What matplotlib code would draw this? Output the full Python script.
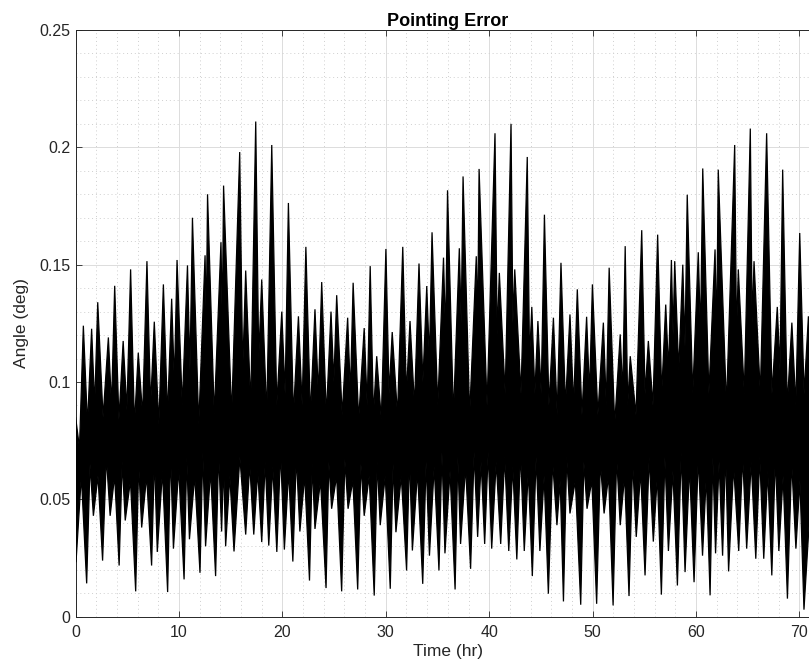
import matplotlib.pyplot as plt
from matplotlib.ticker import MultipleLocator
import numpy as np

# Upper edge of the trace: spike tips (time in hr, angle in deg)
peak_t = [0.0, 0.75, 1.55, 2.14, 3.17, 3.78, 4.60, 5.32, 6.06, 6.90,
          7.61, 8.49, 9.29, 9.81, 10.82, 11.30, 12.52, 12.76, 14.06, 14.31,
          15.87, 16.45, 17.42, 18.00, 18.97, 19.94, 20.58, 21.55, 22.27, 23.15,
          23.80, 24.70, 25.25, 26.31, 26.84, 27.91, 28.49, 29.12, 30.01, 30.62,
          31.64, 32.34, 33.21, 33.96, 34.47, 35.58, 35.97, 37.11, 37.47, 38.75,
          39.02, 40.56, 40.98, 42.11, 42.47, 43.68, 44.12, 44.71, 45.34, 46.21,
          46.94, 47.81, 48.52, 49.42, 49.98, 51.04, 51.60, 52.67, 53.15, 53.64,
          54.75, 55.39, 56.29, 57.07, 57.62, 57.94, 58.72, 59.15, 60.22, 60.65,
          61.84, 62.15, 63.74, 64.09, 65.25, 65.61, 66.83, 67.86, 68.38, 69.27,
          70.03, 70.87, 72.0]
peak_v = [0.085, 0.124, 0.1227, 0.134, 0.119, 0.141, 0.1175, 0.148, 0.1125, 0.1515,
          0.1257, 0.1416, 0.1355, 0.152, 0.1497, 0.170, 0.154, 0.180, 0.1596, 0.1837,
          0.198, 0.1475, 0.211, 0.1437, 0.201, 0.130, 0.1763, 0.128, 0.1576, 0.131,
          0.1426, 0.130, 0.137, 0.1274, 0.1423, 0.123, 0.1494, 0.111, 0.1567, 0.1213,
          0.1576, 0.126, 0.1505, 0.1409, 0.1638, 0.153, 0.1817, 0.157, 0.1876, 0.1536,
          0.1908, 0.206, 0.1465, 0.210, 0.148, 0.1959, 0.132, 0.126, 0.1713, 0.1274,
          0.1508, 0.1288, 0.1395, 0.1278, 0.1416, 0.1253, 0.1487, 0.1203, 0.1579, 0.111,
          0.1647, 0.1175, 0.1628, 0.133, 0.152, 0.1515, 0.150, 0.1798, 0.1553, 0.191,
          0.1565, 0.1905, 0.201, 0.148, 0.208, 0.1515, 0.206, 0.132, 0.1905, 0.1253,
          0.1635, 0.128, 0.13]
# lowest point of the upper edge between two neighbouring tips
notch_v = [0.072, 0.082, 0.09, 0.085, 0.09, 0.084, 0.088, 0.082, 0.086, 0.09,
           0.082, 0.086, 0.1, 0.09, 0.105, 0.082, 0.125, 0.086, 0.125, 0.086,
           0.105, 0.09, 0.11, 0.086, 0.09, 0.095, 0.086, 0.09, 0.086, 0.095,
           0.086, 0.1, 0.086, 0.095, 0.084, 0.09, 0.086, 0.084, 0.095, 0.086,
           0.095, 0.09, 0.1, 0.11, 0.09, 0.12, 0.086, 0.125, 0.086, 0.125,
           0.09, 0.12, 0.095, 0.125, 0.095, 0.11, 0.095, 0.095, 0.09, 0.086,
           0.09, 0.09, 0.086, 0.095, 0.086, 0.09, 0.082, 0.095, 0.09, 0.086,
           0.095, 0.09, 0.095, 0.105, 0.12, 0.105, 0.115, 0.095, 0.12, 0.095,
           0.12, 0.09, 0.12, 0.095, 0.125, 0.095, 0.095, 0.105, 0.09, 0.09,
           0.095, 0.1]

# Lower edge of the trace: downward spike tips
trough_t = [0.0, 0.04, 1.07, 1.72, 2.61, 3.34, 4.21, 4.80, 5.81, 6.39,
            7.35, 7.90, 8.90, 9.46, 10.49, 11.01, 12.03, 12.57, 13.54, 14.12,
            14.51, 15.32, 16.45, 17.23, 18.00, 18.68, 19.46, 20.19, 21.01, 21.69,
            22.62, 23.15, 24.22, 24.76, 25.73, 26.35, 27.28, 27.91, 28.88, 29.46,
            30.43, 30.98, 32.01, 32.57, 33.57, 34.22, 35.14, 35.72, 36.70, 37.23,
            38.20, 38.88, 39.56, 40.24, 41.11, 41.89, 42.67, 43.39, 44.17, 44.90,
            45.72, 46.55, 47.18, 47.81, 48.85, 49.46, 50.39, 51.11, 51.98, 52.67,
            53.52, 54.22, 55.07, 55.87, 56.65, 57.33, 58.20, 58.94, 59.81, 60.63,
            61.36, 61.89, 62.57, 63.15, 64.13, 64.90, 65.78, 66.55, 67.33, 68.01,
            68.84, 69.66, 70.44, 72.0]
trough_v = [0.035, 0.0232, 0.0142, 0.043, 0.0239, 0.043, 0.0218, 0.041, 0.0108, 0.038,
            0.0218, 0.0276, 0.0105, 0.029, 0.0159, 0.033, 0.0187, 0.030, 0.0173, 0.0363,
            0.030, 0.0278, 0.035, 0.035, 0.0318, 0.0303, 0.0276, 0.0286, 0.0235, 0.0363,
            0.0154, 0.0374, 0.0122, 0.046, 0.0108, 0.046, 0.0116, 0.043, 0.009, 0.039,
            0.0119, 0.036, 0.0197, 0.0282, 0.014, 0.026, 0.0197, 0.027, 0.0116, 0.031,
            0.0204, 0.034, 0.031, 0.029, 0.031, 0.028, 0.0244, 0.028, 0.0173, 0.028,
            0.0098, 0.039, 0.0065, 0.044, 0.0051, 0.046, 0.0055, 0.044, 0.0048, 0.039,
            0.0088, 0.034, 0.0176, 0.032, 0.0094, 0.028, 0.0133, 0.019, 0.0147, 0.026,
            0.0091, 0.027, 0.026, 0.0193, 0.028, 0.029, 0.0247, 0.0247, 0.0176, 0.028,
            0.0077, 0.029, 0.003, 0.03]
# highest point of the lower edge between two neighbouring tips
crest_v = [0.05, 0.06, 0.065, 0.06, 0.068, 0.06, 0.066, 0.058, 0.065, 0.06,
           0.068, 0.062, 0.07, 0.063, 0.068, 0.06, 0.07, 0.062, 0.07, 0.065,
           0.06, 0.068, 0.065, 0.062, 0.066, 0.064, 0.07, 0.062, 0.068, 0.06,
           0.065, 0.058, 0.066, 0.06, 0.067, 0.058, 0.065, 0.06, 0.066, 0.06,
           0.065, 0.06, 0.068, 0.062, 0.066, 0.064, 0.07, 0.062, 0.068, 0.064,
           0.07, 0.066, 0.07, 0.066, 0.068, 0.064, 0.07, 0.062, 0.068, 0.06,
           0.066, 0.058, 0.068, 0.058, 0.066, 0.058, 0.066, 0.06, 0.068, 0.06,
           0.066, 0.062, 0.068, 0.06, 0.068, 0.062, 0.07, 0.064, 0.068, 0.06,
           0.068, 0.066, 0.07, 0.064, 0.068, 0.066, 0.068, 0.062, 0.068, 0.06,
           0.066, 0.058, 0.06]

x_ticks = [0, 10, 20, 30, 40, 50, 60, 70]
y_ticks = [0, 0.05, 0.1, 0.15, 0.2, 0.25]
y_labels = ['0', '0.05', '0.1', '0.15', '0.2', '0.25']


def edge(t, v, mid):
    # put each in-between value halfway between its two tips
    ts, vs = [], []
    for i in range(len(t) - 1):
        ts += [t[i], (t[i] + t[i + 1]) / 2]
        vs += [v[i], mid[i]]
    ts.append(t[-1])
    vs.append(v[-1])
    return np.array(ts), np.array(vs)


plt.rcParams['font.family'] = ['Liberation Sans', 'DejaVu Sans']

W, H = 809, 669
fig = plt.figure(figsize=(W / 100, H / 100), dpi=100)
# the axes run past the right edge of the figure, as in the cropped original
ax = fig.add_axes([75.6 / W, 52.3 / H, 744.5 / W, 586.7 / H])

up_t, up_v = edge(peak_t, peak_v, notch_v)
lo_t, lo_v = edge(trough_t, trough_v, crest_v)
ax.fill(np.concatenate([up_t, lo_t[::-1]]), np.concatenate([up_v, lo_v[::-1]]),
        facecolor='k', edgecolor='k', lw=0.9, zorder=3)

ax.set_xlim(0, 72)
ax.set_ylim(0, 0.25)
ax.set_xticks(x_ticks)
ax.set_yticks(y_ticks)
ax.set_yticklabels(y_labels)
ax.xaxis.set_minor_locator(MultipleLocator(2))
ax.yaxis.set_minor_locator(MultipleLocator(0.01))

ax.grid(which='major', color='#dcdcdc', lw=0.7, zorder=0)
ax.grid(which='minor', color='#cfcfcf', lw=0.7, ls=(0, (1, 3)), zorder=0)
ax.set_axisbelow(True)

ax.tick_params(which='major', direction='in', top=True, right=True, length=4,
               width=0.6, color='#262626', labelsize=11.5, labelcolor='#262626')
ax.tick_params(axis='x', pad=6)
ax.tick_params(which='minor', length=0)
for s in ax.spines.values():
    s.set_color('#262626')
    s.set_linewidth(0.7)

ax.set_title('Pointing Error', fontsize=13, fontweight='bold', pad=3)
ax.set_xlabel('Time (hr)', fontsize=12.5, color='#262626', labelpad=3)
ax.set_ylabel('Angle (deg)', fontsize=12.5, color='#262626', labelpad=8)

fig.savefig('out.png', dpi=100)
